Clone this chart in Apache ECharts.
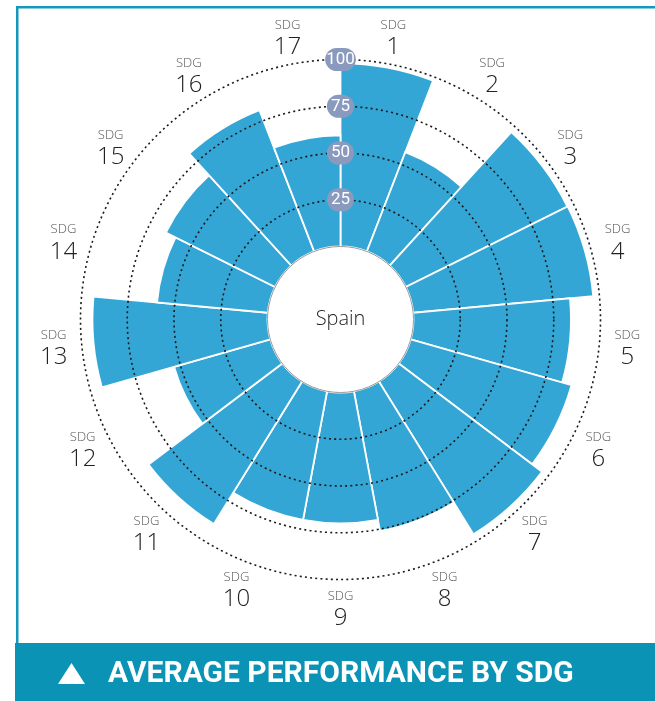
<!DOCTYPE html>
<html>
<head>
<meta charset="utf-8">
<script src="https://cdn.jsdelivr.net/npm/echarts@6/dist/echarts.min.js"></script>
<style>
html,body{margin:0;padding:0;background:#fff;}
#chart{width:655px;height:701px;}
</style>
</head>
<body>
<div id="chart"></div>
<script>
const categories = ['1','2','3','4','5','6','7','8','9','10','11','12','13','14','15','16','17'];
const values = [98, 57, 96.5, 96.7, 84.2, 89.4, 96, 76, 70, 70, 89.6, 53.5, 93.6, 59.5, 65.3, 81, 59.5];
const ringTicks = [25, 50, 75, 100];
const countryName = 'Spain';
const footerTitle = 'AVERAGE PERFORMANCE BY SDG';
const labelRadius = 115;

const CX = 340.5, CY = 319.5;
const chart = echarts.init(document.getElementById('chart'), null, {renderer: 'canvas'});

const pillBase = {color: '#ffffff', fontFamily: 'Roboto, sans-serif', fontSize: 17, lineHeight: 20, backgroundColor: '#8a99be', borderRadius: 13};

const option = {
  animation: false,
  backgroundColor: '#ffffff',
  polar: { center: [CX, CY], radius: [73, 260] },
  angleAxis: {
    type: 'category',
    data: categories,
    startAngle: 90,
    clockwise: true,
    axisLine: {show: false},
    axisTick: {show: false},
    axisLabel: {show: false},
    splitLine: {show: false}
  },
  radiusAxis: {
    type: 'value',
    min: 0,
    max: 100,
    interval: 25,
    z: 5,
    axisLine: {show: false},
    axisTick: {show: false},
    splitLine: {
      show: true,
      lineStyle: {color: ['rgba(0,0,0,0)', '#1a1a1a', '#1a1a1a', '#1a1a1a', '#1a1a1a'], width: 1.6, type: [2, 3.2]}
    },
    axisLabel: {
      show: true,
      showMinLabel: false,
      margin: 0,
      align: 'center',
      verticalAlign: 'middle',
      formatter: function (v) {
        if (ringTicks.indexOf(v) < 0) return '';
        return String(v).length > 2 ? '{w|' + v + '}' : '{n|' + v + '}';
      },
      rich: {
        n: Object.assign({}, pillBase, {padding: [3, 4, 3, 4]}),
        w: Object.assign({}, pillBase, {padding: [3, 1, 3, 1]})
      }
    }
  },
  series: [
    {
      type: 'bar',
      coordinateSystem: 'polar',
      data: values,
      barCategoryGap: '0%',
      z: 2,
      itemStyle: {color: '#34a6d5', borderColor: '#ffffff', borderWidth: 1.8},
      silent: true
    },
    {
      type: 'pie',
      center: [CX, CY],
      radius: [0, 73],
      z: 8,
      silent: true,
      data: [{value: 1, name: countryName}],
      itemStyle: {color: '#ffffff', borderColor: '#9a9a9a', borderWidth: 1},
      label: {show: true, position: 'center', formatter: '{b}', fontSize: 20, color: '#222', fontFamily: 'Open Sans, sans-serif', fontWeight: 300},
      labelLine: {show: false},
      emphasis: {disabled: true}
    },
    {
      type: 'custom',
      coordinateSystem: 'polar',
      silent: true,
      z: 9,
      data: categories.map(function (c) { return [labelRadius, c]; }),
      renderItem: function (params, api) {
        const p = api.coord([api.value(0), api.value(1)]);
        return {
          type: 'group',
          children: [
            {type: 'text', x: p[0], y: p[1] - 11, style: {text: 'SDG', fill: '#555', fontSize: 13, fontFamily: 'Open Sans, sans-serif', fontWeight: 300, align: 'center', verticalAlign: 'middle'}},
            {type: 'text', x: p[0], y: p[1] + 11, style: {text: categories[params.dataIndex], fill: '#222', fontSize: 24, fontFamily: 'Open Sans, sans-serif', fontWeight: 300, align: 'center', verticalAlign: 'middle'}}
          ]
        };
      }
    }
  ],
  graphic: [
    {type: 'rect', shape: {x: 16, y: 6, width: 639, height: 2.5}, style: {fill: '#1598b8'}, z: 20},
    {type: 'rect', shape: {x: 16, y: 6, width: 2.5, height: 640}, style: {fill: '#1598b8'}, z: 20},
    {type: 'rect', shape: {x: 15, y: 643, width: 640, height: 58}, style: {fill: '#0a93b5'}, z: 20},
    {type: 'polygon', shape: {points: [[58, 684], [85, 684], [71.5, 663]]}, style: {fill: '#ffffff'}, z: 21},
    {type: 'text', x: 108, y: 674, style: {text: footerTitle, fill: '#ffffff', fontSize: 30, fontWeight: 'bold', fontFamily: 'Roboto, sans-serif', verticalAlign: 'middle', align: 'left'}, z: 21}
  ]
};
chart.setOption(option);
</script>
</body>
</html>
